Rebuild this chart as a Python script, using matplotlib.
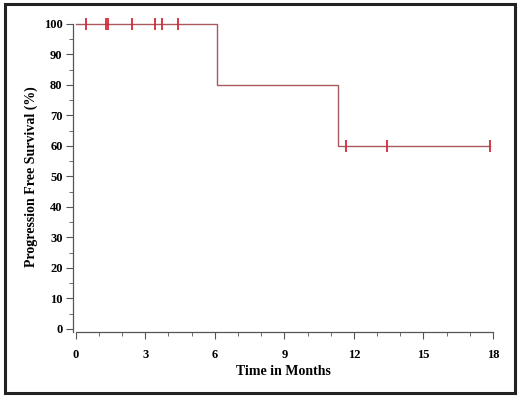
import numpy as np
import matplotlib
matplotlib.use('Agg')
import matplotlib.pyplot as plt
from matplotlib.patches import Rectangle

# Kaplan-Meier step curve (months, % progression free)
step_times = [0.0, 6.1, 11.3, 17.87]
step_surv = [100, 80, 60, 60]

# Censored observations
censor_times = [0.43, 1.32, 1.37, 2.42, 3.41, 3.72, 4.42, 11.64, 13.41, 17.87]
censor_surv = [100, 100, 100, 100, 100, 100, 100, 60, 60, 60]

x_ticks = [0, 3, 6, 9, 12, 15, 18]
y_ticks = [0, 10, 20, 30, 40, 50, 60, 70, 80, 90, 100]

plt.rcParams['font.family'] = 'Liberation Serif'
plt.rcParams['font.weight'] = 'bold'

fig = plt.figure(figsize=(5.2, 3.98), dpi=100)
ax = fig.add_axes([73 / 520, 66 / 398, 420 / 520, 308 / 398])

line_col = '#a85a5e'
mark_col = '#d42a3c'

ax.step(step_times, step_surv, where='post', color=line_col, lw=1.0, clip_on=False)
ax.plot(censor_times, censor_surv, linestyle='none', marker='|', markersize=9,
        markeredgewidth=1.3, color=mark_col, clip_on=False)

ax.set_xlim(-0.12, 18)
ax.set_ylim(-1, 100)
ax.set_xticks(x_ticks)
ax.set_xticks(np.arange(0, 19, 1), minor=True)
ax.set_yticks(y_ticks)
ax.set_yticks(np.arange(0, 101, 5), minor=True)

for s in ['top', 'right']:
    ax.spines[s].set_visible(False)
for s in ['left', 'bottom']:
    ax.spines[s].set_color('#555555')
    ax.spines[s].set_linewidth(0.9)
ax.spines['bottom'].set_bounds(0, 18)

ax.tick_params(which='major', length=5, width=0.8, color='#555555',
               labelsize=9, pad=2.5)
ax.tick_params(which='minor', length=3, width=0.6, color='#555555')
ax.tick_params(axis='x', which='major', pad=7)

ax.set_xlabel('Time in Months', fontsize=10, fontweight='bold')
ax.set_ylabel('Progression Free Survival (%)', fontsize=10, fontweight='bold')
ax.xaxis.set_label_coords(0.5, -0.107)
ax.xaxis.label.set_va('top')
ax.yaxis.set_label_coords(-0.084, 0.505)

# outer frame
fig.patches.append(Rectangle((5 / 520, 5 / 398), 510 / 520, 389 / 398,
                             transform=fig.transFigure, fill=False,
                             edgecolor='#222222', linewidth=2.2))

fig.savefig('out.png', dpi=100)
